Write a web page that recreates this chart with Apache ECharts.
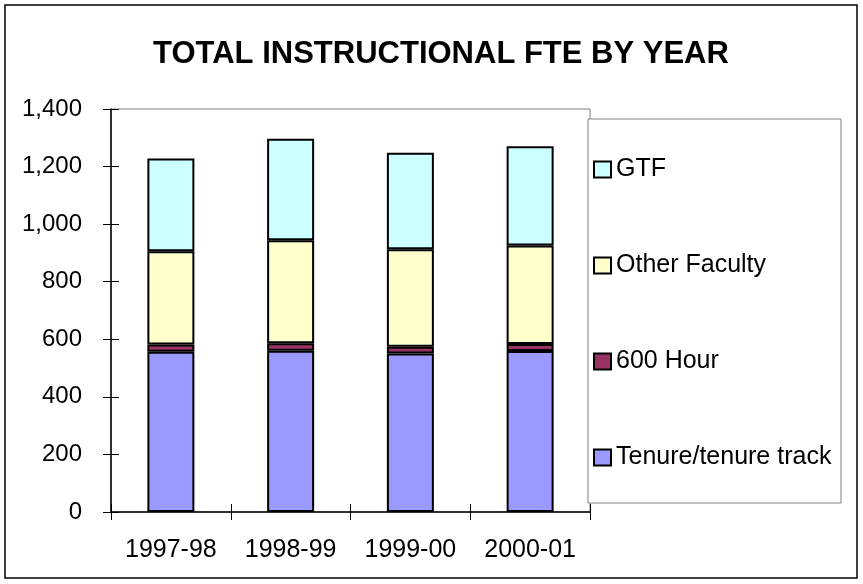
<!DOCTYPE html>
<html>
<head>
<meta charset="utf-8">
<script src="https://cdn.jsdelivr.net/npm/echarts@6/dist/echarts.min.js"></script>
<style>
html,body{margin:0;padding:0;background:#fff;}
#chart{width:863px;height:584px;}
</style>
</head>
<body>
<div id="chart"></div>
<script>
var categories = ['1997-98', '1998-99', '1999-00', '2000-01'];
var tenure = [557, 560, 551, 559];
var hour600 = [25, 26, 23, 25];
var otherFaculty = [324, 358, 339, 342];
var gtf = [322, 353, 335, 345];
var seriesNames = ['Tenure/tenure track', '600 Hour', 'Other Faculty', 'GTF'];
var seriesColors = ['#9999FF', '#993366', '#FFFFCC', '#CCFFFF'];
var titleText = 'TOTAL INSTRUCTIONAL FTE BY YEAR';

var chart = echarts.init(document.getElementById('chart'), null, {renderer: 'canvas'});
var font = '"Liberation Sans", Arial, sans-serif';
var dataSets = [tenure, hour600, otherFaculty, gtf];

var series = dataSets.map(function (d, i) {
  return {
    name: seriesNames[i],
    type: 'bar',
    stack: 'total',
    barWidth: 47,
    xAxisIndex: 0,
    yAxisIndex: 0,
    data: d,
    itemStyle: {color: seriesColors[i], borderColor: '#000', borderWidth: 2},
    emphasis: {disabled: true}
  };
});

chart.setOption({
  animation: false,
  backgroundColor: '#fff',
  title: {
    text: titleText,
    left: 436, top: 34, textAlign: 'center',
    textStyle: {fontFamily: font, fontSize: 31, fontWeight: 'bold', color: '#000'}
  },
  grid: {left: 111, top: 109, width: 479, height: 403, show: true, borderColor: '#808080', borderWidth: 1},
  graphic: [
    {type: 'rect', shape: {x: 5, y: 5, width: 852, height: 573}, style: {fill: 'none', stroke: '#000', lineWidth: 1.5}, z: 0},
    {type: 'rect', shape: {x: 588, y: 119, width: 253, height: 384}, style: {fill: '#fff', stroke: '#808080', lineWidth: 1}, z: 1}
  ],
  legend: {
    orient: 'vertical',
    left: 593,
    top: 157,
    padding: 0,
    icon: 'rect',
    itemWidth: 17,
    itemHeight: 16,
    itemGap: 71,
    data: ['GTF', 'Other Faculty', '600 Hour', 'Tenure/tenure track'],
    textStyle: {fontFamily: font, fontSize: 25, color: '#000', lineHeight: 25},
    selectedMode: false,
    z: 10
  },
  xAxis: [
    {
      type: 'category', data: categories, gridIndex: 0,
      axisLine: {lineStyle: {color: '#000', width: 1.5}},
      axisTick: {show: true, inside: false, length: 8, lineStyle: {color: '#000'}},
      axisLabel: {fontFamily: font, fontSize: 25, color: '#000', margin: 26}
    },
    {
      type: 'category', data: categories, gridIndex: 0, position: 'bottom',
      axisLine: {show: false},
      axisTick: {show: true, inside: true, length: 8, lineStyle: {color: '#000'}},
      axisLabel: {show: false}
    }
  ],
  yAxis: [
    {
      type: 'value', min: 0, max: 1400, interval: 200, gridIndex: 0,
      axisLine: {show: true, lineStyle: {color: '#000', width: 1.5}},
      axisTick: {show: true, inside: false, length: 8, lineStyle: {color: '#000'}},
      splitLine: {show: false},
      axisLabel: {fontFamily: font, fontSize: 24, color: '#000', margin: 29,
        formatter: function (v) { return v.toLocaleString('en-US'); }}
    },
    {
      type: 'value', min: 0, max: 1400, interval: 200, gridIndex: 0, position: 'left',
      axisLine: {show: false},
      axisTick: {show: true, inside: true, length: 8, lineStyle: {color: '#000'}},
      splitLine: {show: false},
      axisLabel: {show: false}
    }
  ],
  series: series
});
</script>
</body>
</html>
